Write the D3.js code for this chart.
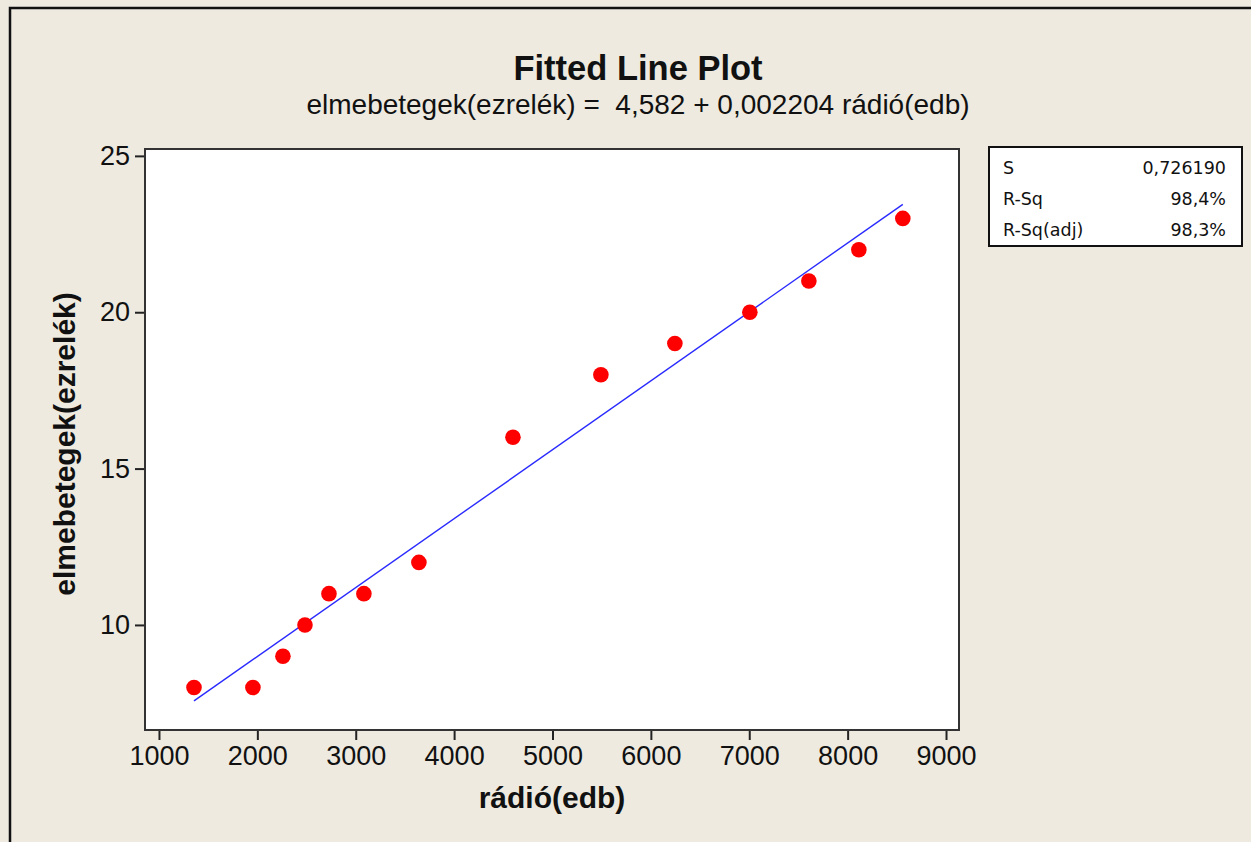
<!DOCTYPE html>
<html>
<head>
<meta charset="utf-8">
<script src="https://cdn.jsdelivr.net/npm/d3@7"></script>
<style>
  body { margin: 0; background: #eeeae0; }
  svg { display: block; }
  .tick text { font-family: "Liberation Sans", Arial, sans-serif; font-size: 27px; fill: #111; }
</style>
</head>
<body>
<div id="chart"></div>
<script>
// data
var radio = [1356, 1955, 2260, 2484, 2728, 3083, 3642, 4598, 5492, 6244, 7006, 7606, 8114, 8561];
var elmebetegek = [8, 8, 9, 10, 11, 11, 12, 16, 18, 19, 20, 21, 22, 23];
var xTicks = [1000, 2000, 3000, 4000, 5000, 6000, 7000, 8000, 9000];
var yTicks = [10, 15, 20, 25];
var intercept = 4.582;
var slope = 0.002204;
var statNames = ["S", "R-Sq", "R-Sq(adj)"];
var statValues = ["0,726190", "98,4%", "98,3%"];

var svgWidth = 1251;
var svgHeight = 842;

// plot frame
var plot = { left: 145, top: 149, right: 959, bottom: 730 };

var svg = d3.select("#chart")
  .append("svg")
  .attr("width", svgWidth)
  .attr("height", svgHeight);

// outer frame (only left/top edges show)
svg.append("rect")
  .attr("x", 10).attr("y", 8)
  .attr("width", svgWidth + 20).attr("height", svgHeight + 20)
  .attr("fill", "#eeeae0")
  .attr("stroke", "#111")
  .attr("stroke-width", 2.5);

var x = d3.scaleLinear().domain([858, 9132]).range([plot.left, plot.right]);
var y = d3.scaleLinear().domain([6.64, 25.22]).range([plot.bottom, plot.top]);

svg.append("rect")
  .attr("x", plot.left).attr("y", plot.top)
  .attr("width", plot.right - plot.left)
  .attr("height", plot.bottom - plot.top)
  .attr("fill", "#fff")
  .attr("stroke", "#333")
  .attr("stroke-width", 2);

var xAxis = svg.append("g")
  .attr("transform", `translate(0, ${plot.bottom + 1})`)
  .call(d3.axisBottom(x).tickValues(xTicks).tickSize(9).tickPadding(6).tickFormat(d3.format("d")));

var yAxis = svg.append("g")
  .attr("transform", `translate(${plot.left - 1}, 0)`)
  .call(d3.axisLeft(y).tickValues(yTicks).tickSize(9).tickPadding(5).tickFormat(d3.format("d")));

[xAxis, yAxis].forEach(function(a) {
  a.select(".domain").remove();
  a.selectAll(".tick line").attr("stroke", "#222").attr("stroke-width", 2);
});

// fitted line
var xMin = d3.min(radio), xMax = d3.max(radio);
svg.append("line")
  .attr("x1", x(xMin)).attr("y1", y(intercept + slope * xMin))
  .attr("x2", x(xMax)).attr("y2", y(intercept + slope * xMax))
  .attr("stroke", "#2a2aff")
  .attr("stroke-width", 1.4);

// points
svg.selectAll("circle.pt")
  .data(radio)
  .enter()
  .append("circle")
  .attr("class", "pt")
  .attr("cx", d => x(d))
  .attr("cy", (d, i) => y(elmebetegek[i]))
  .attr("r", 7.8)
  .attr("fill", "#ff0000");

// titles
svg.append("text")
  .attr("x", 638).attr("y", 80)
  .attr("text-anchor", "middle")
  .attr("font-family", "Liberation Sans, Arial, sans-serif")
  .attr("font-weight", "bold")
  .attr("font-size", 34.5)
  .attr("fill", "#111")
  .text("Fitted Line Plot");

svg.append("text")
  .attr("x", 638).attr("y", 114)
  .attr("text-anchor", "middle")
  .attr("font-family", "Liberation Sans, Arial, sans-serif")
  .attr("font-size", 28)
  .attr("fill", "#111")
  .attr("xml:space", "preserve")
  .text("elmebetegek(ezrelék) =  4,582 + 0,002204 rádió(edb)");

// axis labels
svg.append("text")
  .attr("x", 552).attr("y", 808)
  .attr("text-anchor", "middle")
  .attr("font-family", "Liberation Sans, Arial, sans-serif")
  .attr("font-weight", "bold")
  .attr("font-size", 30)
  .attr("fill", "#111")
  .text("rádió(edb)");

svg.append("text")
  .attr("transform", "translate(75, 444) rotate(-90)")
  .attr("text-anchor", "middle")
  .attr("font-family", "Liberation Sans, Arial, sans-serif")
  .attr("font-weight", "bold")
  .attr("font-size", 30)
  .attr("fill", "#111")
  .text("elmebetegek(ezrelék)");

// stats box
var box = svg.append("g");
box.append("rect")
  .attr("x", 989).attr("y", 147)
  .attr("width", 253).attr("height", 99)
  .attr("fill", "#fff")
  .attr("stroke", "#111")
  .attr("stroke-width", 2);

var rowY = d3.scalePoint().domain(statNames).range([174, 236]);

box.selectAll("text.name")
  .data(statNames)
  .enter()
  .append("text")
  .attr("class", "name")
  .attr("x", 1003)
  .attr("y", d => rowY(d))
  .attr("font-family", "DejaVu Sans, sans-serif")
  .attr("font-size", 17.5)
  .attr("fill", "#111")
  .text(d => d);

box.selectAll("text.val")
  .data(statValues)
  .enter()
  .append("text")
  .attr("class", "val")
  .attr("x", 1226)
  .attr("y", (d, i) => rowY(statNames[i]))
  .attr("text-anchor", "end")
  .attr("font-family", "DejaVu Sans, sans-serif")
  .attr("font-size", 17.5)
  .attr("fill", "#111")
  .text(d => d);
</script>
</body>
</html>
